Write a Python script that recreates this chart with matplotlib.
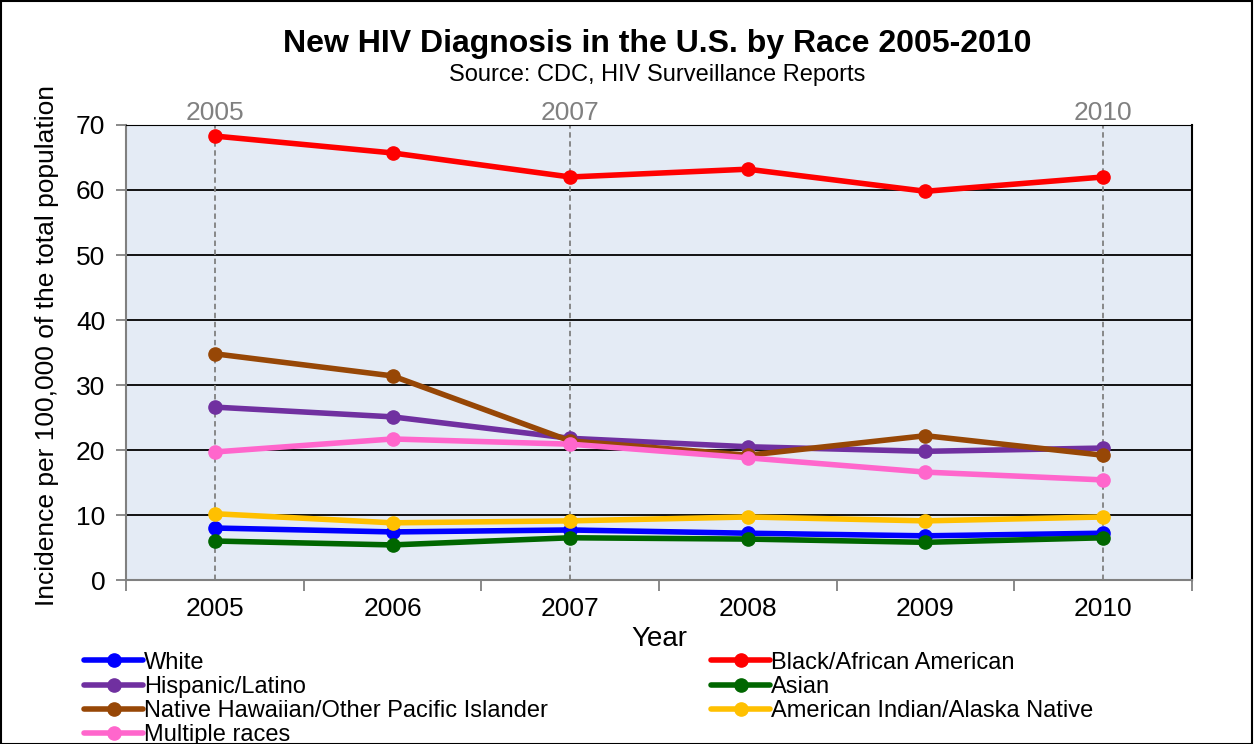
"""New HIV diagnosis in the U.S. by race, 2005-2010 (CDC surveillance data)."""
import matplotlib.pyplot as plt
from matplotlib.patches import Rectangle

plt.rcParams['font.family'] = ['Liberation Sans', 'DejaVu Sans']

years = [2005, 2006, 2007, 2008, 2009, 2010]
marked_years = [2005, 2007, 2010]

white = [8.0, 7.4, 7.7, 7.2, 6.8, 7.2]
black = [68.3, 65.7, 62.0, 63.2, 59.8, 62.0]
hispanic = [26.6, 25.1, 21.8, 20.5, 19.8, 20.3]
asian = [6.0, 5.4, 6.5, 6.3, 5.8, 6.5]
hawaiian = [34.8, 31.4, 21.4, 19.2, 22.2, 19.2]
native = [10.2, 8.8, 9.1, 9.7, 9.1, 9.7]
multiple = [19.7, 21.7, 20.9, 18.8, 16.6, 15.4]

series = [
    ('White', white, '#0000FF'),
    ('Black/African American', black, '#FF0000'),
    ('Hispanic/Latino', hispanic, '#7030A0'),
    ('Asian', asian, '#006600'),
    ('Native Hawaiian/Other Pacific Islander', hawaiian, '#974706'),
    ('American Indian/Alaska Native', native, '#FFC000'),
    ('Multiple races', multiple, '#FF66CC'),
]

fig = plt.figure(figsize=(12.55, 7.44), dpi=100)
ax = fig.add_axes([0.1004, 0.2204, 0.8494, 0.6116])
ax.set_facecolor('#E4EBF5')

# horizontal gridlines in black
ax.set_ylim(0, 70)
ax.set_yticks(range(0, 71, 10))
ax.yaxis.grid(True, color='black', linewidth=1.3)
ax.set_axisbelow(True)

# dashed markers for selected years
for yr in marked_years:
    ax.axvline(yr, color='#808080', linestyle=(0, (3, 2)), linewidth=1.3, zorder=1.5)

lines = {}
for name, vals, color in series:
    ln, = ax.plot(years, vals, color=color, linewidth=4, marker='o',
                  markersize=9.5, solid_capstyle='round', label=name, zorder=3)
    lines[name] = ln

ax.set_xlim(2004.5, 2010.5)
ax.set_xticks(years)
ax.set_xticks([y + 0.5 for y in [2004] + years], minor=True)
ax.tick_params(axis='x', which='major', length=0, labelsize=19, pad=12)
ax.tick_params(axis='x', which='minor', length=8, color='#808080', width=1.3)
ax.tick_params(axis='y', length=7, color='#808080', width=1.3, labelsize=19, pad=8)

ax.spines['left'].set_color('#808080')
ax.spines['bottom'].set_color('#808080')
ax.spines['left'].set_linewidth(1.5)
ax.spines['bottom'].set_linewidth(1.5)
ax.spines['right'].set_color('black')
ax.spines['top'].set_color('black')
ax.spines['right'].set_linewidth(1.5)

ax.set_xlabel('Year', fontsize=20, labelpad=4)
ax.set_ylabel('Incidence per 100,000 of the total population', fontsize=19)
ax.yaxis.set_label_coords(-0.063, 0.515)

# year labels on top
top = ax.secondary_xaxis('top')
top.set_xticks(marked_years)
top.tick_params(length=0, labelsize=19, labelcolor='#808080', pad=0)
top.spines['top'].set_visible(False)

fig.text(0.524, 0.941, 'New HIV Diagnosis in the U.S. by Race 2005-2010',
         ha='center', va='center', fontsize=23, fontweight='bold')
fig.text(0.524, 0.899, 'Source: CDC, HIV Surveillance Reports',
         ha='center', va='center', fontsize=17)

order = ['White', 'Hispanic/Latino', 'Native Hawaiian/Other Pacific Islander',
         'Multiple races', 'Black/African American', 'Asian',
         'American Indian/Alaska Native']
fig.legend([lines[n] for n in order], order, loc='upper left',
           bbox_to_anchor=(0.067, 0.124), ncol=2, frameon=False, fontsize=17,
           handlelength=2.5, handletextpad=0.05, labelspacing=0.09,
           columnspacing=6.9, borderaxespad=0, borderpad=0)

# outer border of the chart
fig.patches.append(Rectangle((0.001, 0.0), 0.997, 0.998, transform=fig.transFigure,
                             fill=False, edgecolor='black', linewidth=1.5))

fig.savefig('out.png', dpi=100)
